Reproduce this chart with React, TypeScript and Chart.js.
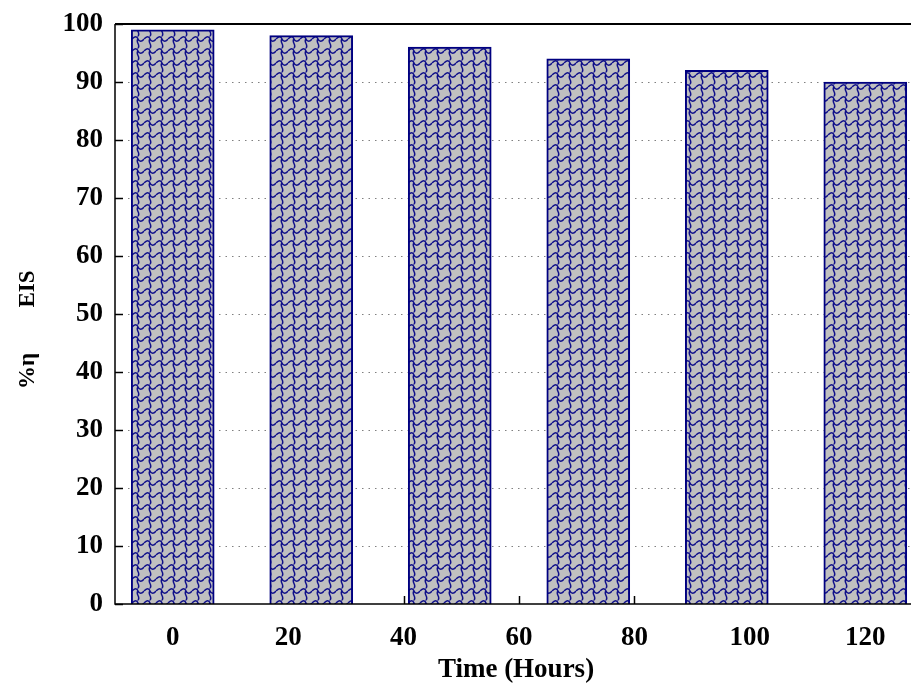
import React, { useEffect, useRef } from "react";
import { Chart, registerables } from "chart.js";

Chart.register(...registerables);

const hours = [0, 24, 48, 72, 96, 120];
const efficiency = [99, 98, 96, 94, 92, 90];
const xTickValues = [0, 20, 40, 60, 80, 100, 120];
const yTickValues = [0, 10, 20, 30, 40, 50, 60, 70, 80, 90, 100];
const xTitle = "Time (Hours)";
const yTitleA = "%η";
const yTitleB = "EIS";

const FONT = "'Liberation Serif', 'Times New Roman', serif";
const NAVY = "#000080";

function makePattern(): CanvasPattern | string {
  const c = document.createElement("canvas");
  c.width = 12;
  c.height = 12;
  const g = c.getContext("2d");
  if (!g) return "#c0c0c0";
  g.fillStyle = "#c0c0c0";
  g.fillRect(0, 0, 12, 12);
  g.strokeStyle = "#10108a";
  g.lineWidth = 1.5;
  g.beginPath();
  g.moveTo(0, 3);
  g.bezierCurveTo(3, 0, 5, 0, 6, 3);
  g.bezierCurveTo(7, 6, 10, 6, 12, 3);
  g.moveTo(6, 3);
  g.bezierCurveTo(3, 6, 9, 9, 6, 12);
  g.moveTo(6, 0);
  g.lineTo(6, 0.5);
  g.stroke();
  const p = g.createPattern(c, "repeat");
  return p || "#c0c0c0";
}

const decorPlugin = {
  id: "decor",
  beforeDatasetsDraw(chart: any) {
    const { ctx, chartArea } = chart;
    const xs = chart.scales.x;
    const ys = chart.scales.y;
    ctx.save();
    ctx.strokeStyle = "#808080";
    ctx.lineWidth = 1;
    ctx.setLineDash([1.5, 5]);
    yTickValues.forEach((v) => {
      if (v === 0 || v === 100) return;
      const y = Math.round(ys.getPixelForValue(v)) + 0.5;
      ctx.beginPath();
      ctx.moveTo(chartArea.left, y);
      ctx.lineTo(chartArea.right, y);
      ctx.stroke();
    });
    ctx.setLineDash([]);
    ctx.strokeStyle = "#000";
    ctx.lineWidth = 1.5;
    yTickValues.forEach((v) => {
      const y = Math.round(ys.getPixelForValue(v)) + 0.5;
      ctx.beginPath();
      ctx.moveTo(chartArea.left, y);
      ctx.lineTo(chartArea.left + 8, y);
      ctx.stroke();
    });
    xTickValues.forEach((v) => {
      const x = Math.round(xs.getPixelForValue(v)) + 0.5;
      ctx.beginPath();
      ctx.moveTo(x, chartArea.bottom);
      ctx.lineTo(x, chartArea.bottom - 8);
      ctx.stroke();
    });
    ctx.restore();
  },
  afterDatasetsDraw(chart: any) {
    const { ctx, chartArea } = chart;
    ctx.save();
    ctx.strokeStyle = "#000";
    ctx.lineWidth = 2;
    ctx.beginPath();
    ctx.moveTo(chartArea.left, chartArea.top);
    ctx.lineTo(chartArea.right, chartArea.top);
    ctx.stroke();
    ctx.lineWidth = 1.5;
    ctx.beginPath();
    ctx.moveTo(chartArea.left, chartArea.top);
    ctx.lineTo(chartArea.left, chartArea.bottom);
    ctx.lineTo(chartArea.right, chartArea.bottom);
    ctx.stroke();
    ctx.fillStyle = "#000";
    ctx.font = `bold 27px ${FONT}`;
    ctx.textAlign = "center";
    ctx.textBaseline = "alphabetic";
    ctx.fillText(xTitle, 516, 677);
    ctx.font = `bold 23px ${FONT}`;
    ctx.save();
    ctx.translate(34, 371);
    ctx.rotate(-Math.PI / 2);
    ctx.fillText(yTitleA, 0, 0);
    ctx.restore();
    ctx.save();
    ctx.translate(34, 289);
    ctx.rotate(-Math.PI / 2);
    ctx.fillText(yTitleB, 0, 0);
    ctx.restore();
    ctx.restore();
  },
};

export default function App() {
  const ref = useRef<HTMLCanvasElement | null>(null);
  useEffect(() => {
    if (!ref.current) return;
    const pattern = makePattern();
    const chart = new Chart(ref.current, {
      type: "bar",
      data: {
        datasets: [
          {
            data: hours.map((h, i) => ({ x: h, y: efficiency[i] })),
            backgroundColor: pattern as any,
            borderColor: NAVY,
            borderWidth: 2,
            barThickness: 83,
          },
        ],
      },
      options: {
        responsive: false,
        animation: false,
        devicePixelRatio: 1,
        layout: { padding: { top: 24, right: 7, left: 0, bottom: 0 } },
        plugins: { legend: { display: false }, tooltip: { enabled: false } },
        scales: {
          x: {
            type: "linear",
            min: -10,
            max: 130,
            offset: false,
            grid: { display: false, offset: false },
            border: { display: false },
            ticks: {
              padding: 10,
              color: "#000",
              font: { family: FONT, size: 27, weight: "bold" },
            },
            afterBuildTicks: (s: any) => {
              s.ticks = xTickValues.map((v) => ({ value: v }));
            },
            afterFit: (s: any) => {
              s.height = 82;
            },
          },
          y: {
            min: 0,
            max: 100,
            grid: { display: false },
            border: { display: false },
            ticks: {
              stepSize: 10,
              padding: 4,
              color: "#000",
              font: { family: FONT, size: 27, weight: "bold" },
            },
            afterBuildTicks: (s: any) => {
              s.ticks = yTickValues.map((v) => ({ value: v }));
            },
            afterFit: (s: any) => {
              s.width = 115;
            },
          },
        },
      } as any,
      plugins: [decorPlugin],
    });
    return () => chart.destroy();
  }, []);
  return (
    <div
      style={{
        position: "fixed",
        left: 0,
        top: 0,
        width: 911,
        height: 686,
        overflow: "hidden",
        background: "#fff",
      }}
    >
      <canvas ref={ref} width={930} height={686} style={{ width: 930, height: 686, display: "block" }} />
    </div>
  );
}
